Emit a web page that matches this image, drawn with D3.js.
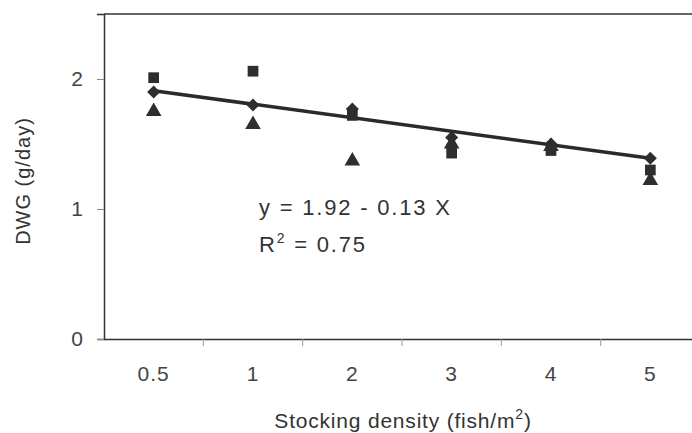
<!DOCTYPE html>
<html>
<head>
<meta charset="utf-8">
<script src="https://cdn.jsdelivr.net/npm/d3@7"></script>
<style>
  html, body { margin: 0; padding: 0; background: #fff; overflow: hidden; }
  text { font-family: "Liberation Sans", Arial, sans-serif; fill: #333; }
</style>
</head>
<body>
<div class="chart"></div>
<script>
var width = 692, height = 433;
var margin = { top: 14, right: -8, bottom: 94, left: 104 };

// data
var densities = ["0.5", "1", "2", "3", "4", "5"];
var squareVals = [2.01, 2.06, 1.72, 1.43, 1.45, 1.30];
var diamondVals = [1.90, 1.80, 1.77, 1.55, 1.50, 1.39];
var triangleVals = [1.75, 1.65, 1.37, 1.50, 1.48, 1.22];
var fitEnds = [1.91, 1.39]; // regression line at 0.5 and 5
var yTicks = [0, 1, 2];

var svg = d3.select(".chart").append("svg")
    .attr("width", width)
    .attr("height", height);

var x = d3.scaleBand()
    .domain(densities)
    .range([margin.left, width - margin.right]);

var y = d3.scaleLinear()
    .domain([0, 2.5])
    .range([height - margin.bottom, margin.top]);

var cx = d => x(d) + x.bandwidth() / 2;

// frame
svg.append("line")
    .attr("x1", margin.left).attr("x2", width)
    .attr("y1", y(2.5)).attr("y2", y(2.5))
    .attr("stroke", "#333").attr("stroke-width", 1.5);

// y axis
var yAxis = svg.append("g")
    .attr("transform", `translate(${margin.left},0)`)
    .call(d3.axisLeft(y).tickValues(yTicks).tickSize(7).tickPadding(14).tickFormat(d3.format("d")));
yAxis.select(".domain").attr("stroke", "#333").attr("stroke-width", 1.5);
yAxis.selectAll(".tick line").attr("stroke", "#888");
yAxis.selectAll("text").attr("font-size", 21).style("fill", "#444");

// x axis (ticks sit between categories)
var xAxis = svg.append("g")
    .attr("transform", `translate(0,${y(0)})`)
    .call(d3.axisBottom(x).tickSize(0).tickPadding(27));
xAxis.select(".domain").attr("stroke", "#333").attr("stroke-width", 1.5);
xAxis.selectAll("text").attr("font-size", 21).attr("letter-spacing", 1).style("fill", "#444");
xAxis.selectAll(".sep")
    .data(densities.slice(1))
    .enter().append("line")
    .attr("class", "sep")
    .attr("x1", d => x(d)).attr("x2", d => x(d))
    .attr("y1", 0).attr("y2", 7)
    .attr("stroke", "#999");

// axis titles
svg.append("text")
    .attr("transform", `translate(30,181) rotate(-90)`)
    .attr("text-anchor", "middle")
    .attr("font-size", 20)
    .attr("letter-spacing", 1)
    .text("DWG (g/day)");

var xt = svg.append("text")
    .attr("x", 403)
    .attr("y", 428)
    .attr("text-anchor", "middle")
    .attr("font-size", 21)
    .attr("letter-spacing", 0.8)
    .text("Stocking density (fish/m");
xt.append("tspan").attr("dy", -9).attr("font-size", 14).text("2");
xt.append("tspan").attr("dy", 9).text(")");

// regression line
svg.append("line")
    .attr("x1", cx(densities[0])).attr("y1", y(fitEnds[0]))
    .attr("x2", cx(densities[densities.length - 1])).attr("y2", y(fitEnds[1]))
    .attr("stroke", "#2a2a2a")
    .attr("stroke-width", 3.5);

// markers
var mark = "#2e2e2e";
svg.append("g").selectAll("path")
    .data(densities)
    .enter().append("path")
    .attr("transform", (d, i) => `translate(${cx(d)},${y(squareVals[i])})`)
    .attr("d", d3.symbol().type(d3.symbolSquare).size(115))
    .attr("fill", mark);

svg.append("g").selectAll("path")
    .data(densities)
    .enter().append("path")
    .attr("transform", (d, i) => `translate(${cx(d)},${y(triangleVals[i])})`)
    .attr("d", d3.symbol().type(d3.symbolTriangle).size(105))
    .attr("fill", mark);

svg.append("g").selectAll("path")
    .data(densities)
    .enter().append("path")
    .attr("transform", (d, i) => `translate(${cx(d)},${y(diamondVals[i])}) rotate(45)`)
    .attr("d", d3.symbol().type(d3.symbolSquare).size(85))
    .attr("fill", mark);

// equation
svg.append("text")
    .attr("x", 259).attr("y", 215)
    .attr("font-size", 22)
    .attr("letter-spacing", 1.8)
    .text("y = 1.92 - 0.13 X");

var r2 = svg.append("text")
    .attr("x", 259).attr("y", 252)
    .attr("font-size", 22)
    .attr("letter-spacing", 1.8)
    .text("R");
r2.append("tspan").attr("dy", -9).attr("font-size", 14).text("2");
r2.append("tspan").attr("dy", 9).text(" = 0.75");
</script>
</body>
</html>
